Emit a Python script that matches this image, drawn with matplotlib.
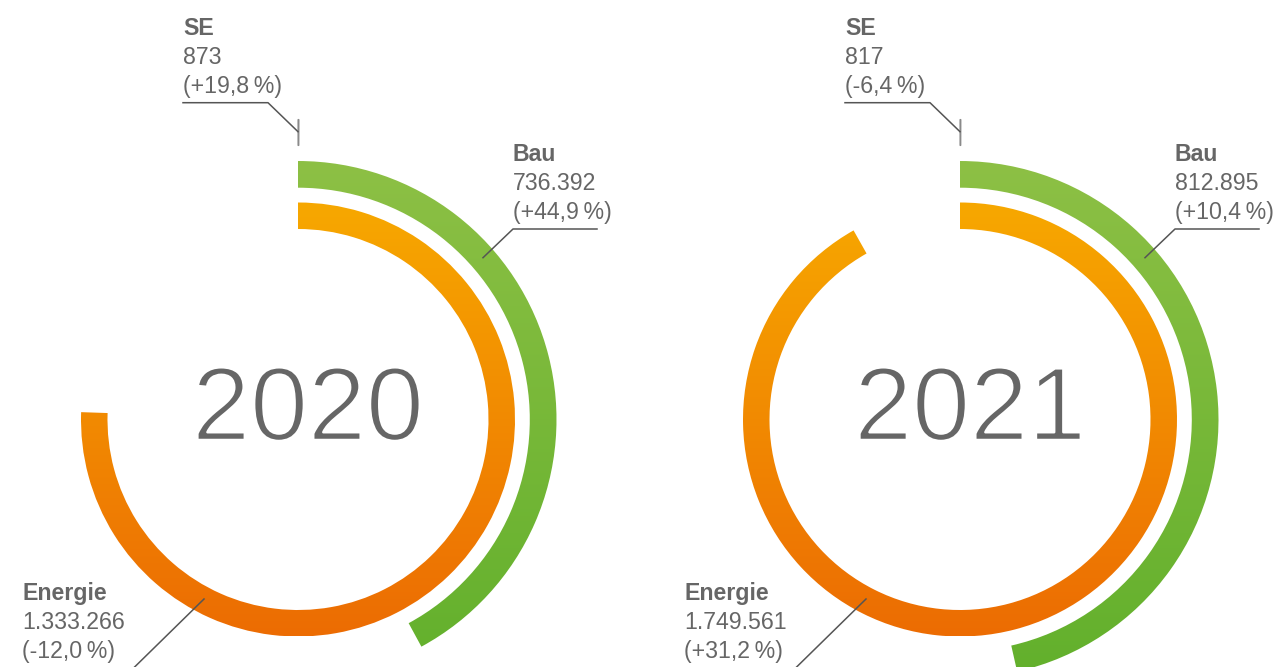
import numpy as np
import matplotlib
matplotlib.use("Agg")
import matplotlib.pyplot as plt
import matplotlib.patheffects as pe
from matplotlib.patches import Wedge
from matplotlib.colors import to_rgb

# ---------------- data ----------------
years = ["2020", "2021"]
segments = ["SE", "Bau", "Energie"]
se_values = [873, 817]
bau_values = [736392, 812895]
energie_values = [1333266, 1749561]
se_changes = ["+19,8", "-6,4"]
bau_changes = ["+44,9", "+10,4"]
energie_changes = ["-12,0", "+31,2"]

# ---------------- layout / style ----------------
W, H = 1274, 667
centers_x = [298, 960]
center_y = 419.5
ring_radii = {"Energie": (190.5, 217.0), "Bau": (231.8, 258.5), "SE": (274.0, 300.0)}
# value that corresponds to a full circle, per ring and chart
full_scale = {"Energie": [1.765e6, 1.905e6], "Bau": [1.75e6, 1.75e6], "SE": [1.75e6, 1.75e6]}
grad = {"Bau": ("#8dc045", "#62b02c"), "Energie": ("#f7a800", "#ec6c03")}
TXT = "#666666"
LINE = "#555555"
FONT = ["Liberation Sans", "DejaVu Sans"]
LABEL_SIZE = 16.7

fig = plt.figure(figsize=(W / 100, H / 100), dpi=100)
ax = fig.add_axes([0, 0, 1, 1])
ax.axis("off")


def fmt(v):
    return f"{v:,}".replace(",", ".")


def gradient_ring(cx, ring, value, idx):
    r_in, r_out = ring_radii[ring]
    angle = value / full_scale[ring][idx] * 360.0
    w = Wedge((cx, center_y), r_out, -90, -90 + angle, width=r_out - r_in,
              facecolor="none", edgecolor="none")
    ax.add_patch(w)
    c0, c1 = np.array(to_rgb(grad[ring][0])), np.array(to_rgb(grad[ring][1]))
    t = np.linspace(0, 1, 256)[:, None, None]
    img = c0 * (1 - t) + c1 * t
    img = np.repeat(img, 2, axis=1)
    im = ax.imshow(img, origin="lower", aspect="auto", interpolation="bilinear",
                   extent=(cx - r_out, cx + r_out, center_y - r_out, center_y + r_out))
    im.set_clip_path(w)


def label(x, y0, title, value, change):
    ax.text(x, y0, title, fontsize=LABEL_SIZE, fontweight="bold", color=TXT,
            family=FONT, ha="left", va="baseline")
    ax.text(x, y0 + 29, value, fontsize=LABEL_SIZE, color=TXT, family=FONT,
            ha="left", va="baseline")
    ax.text(x, y0 + 58, f"({change}\u2009%)", fontsize=LABEL_SIZE, color=TXT,
            family=FONT, ha="left", va="baseline")


for i, year in enumerate(years):
    cx = centers_x[i]
    gradient_ring(cx, "Bau", bau_values[i], i)
    gradient_ring(cx, "Energie", energie_values[i], i)

    # SE ring (tiny value -> thin tick)
    r_in, r_out = ring_radii["SE"]
    se_angle = se_values[i] / full_scale["SE"][i] * 360.0
    ax.add_patch(Wedge((cx, center_y), r_out, -90, -90 + se_angle,
                       width=r_out - r_in, facecolor="#8a8a8a",
                       edgecolor="#8a8a8a", lw=0.8))

    # year in the centre (slightly thinned strokes)
    ax.text(cx + 10, 440, year, fontsize=75, color=TXT,
            family=["Liberation Sans", "DejaVu Sans"], fontweight="normal",
            ha="center", va="baseline",
            path_effects=[pe.Stroke(linewidth=1.8, foreground="white")])

    # SE label
    label(cx - 115, 35, "SE", fmt(se_values[i]), se_changes[i])
    ax.plot([cx - 115, cx - 30, cx], [102.7, 102.7, 131.7], color=LINE, lw=1.1)

    # Bau label
    label(cx + 215, 160.7, "Bau", fmt(bau_values[i]), bau_changes[i])
    ax.plot([cx + 299, cx + 215, cx + 185], [229, 229, 257.7], color=LINE, lw=1.1)

    # Energie label
    label(cx - 276, 600, "Energie", fmt(energie_values[i]), energie_changes[i])
    ax.plot([cx - 94, cx - 194], [599, 697], color=LINE, lw=1.1)

ax.set_xlim(0, W)
ax.set_ylim(H, 0)
fig.savefig("out.png", dpi=100, facecolor="white")
